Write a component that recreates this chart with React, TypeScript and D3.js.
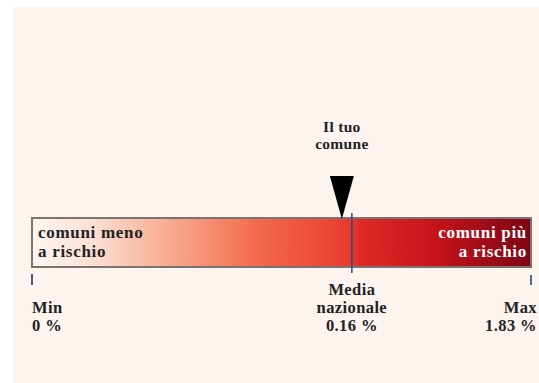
import React from "react";
import * as d3 from "d3";

const scalePoints = [0, 0.16, 1.83];
const scaleFractions = [0, 0.641, 1];
const tickLabels = [
  ["Min", "0 %"],
  ["Media", "nazionale", "0.16 %"],
  ["Max", "1.83 %"],
];
const comuneValue = 0.155;
const gradientStops = [
  { offset: 0, color: "#fdf6f2" },
  { offset: 0.12, color: "#fbe0d4" },
  { offset: 0.28, color: "#f8a98e" },
  { offset: 0.45, color: "#f36a4d" },
  { offset: 0.6, color: "#ec4534" },
  { offset: 0.64, color: "#e63a2e" },
  { offset: 0.66, color: "#de2a26" },
  { offset: 0.8, color: "#c8141c" },
  { offset: 1, color: "#7e0514" },
];

const W = 539;
const H = 383;

export default function App() {
  const x0 = 32;
  const x1 = 531;
  const x = d3
    .scaleLinear()
    .domain(scalePoints)
    .range(scaleFractions.map((f) => x0 + f * (x1 - x0)));
  const barTop = 218;
  const barBottom = 267;
  const font = "'Liberation Serif', 'Times New Roman', serif";
  const xm = x(scalePoints[1]);
  const xc = x(comuneValue);
  const tri = d3.path();
  tri.moveTo(xc - 12, 176);
  tri.lineTo(xc + 12, 176);
  tri.lineTo(xc, barTop + 1);
  tri.closePath();

  return (
    <svg
      width={W}
      height={H}
      style={{ position: "fixed", left: 0, top: 0, display: "block" }}
    >
      <defs>
        <linearGradient id="g" x1="0" x2="1" y1="0" y2="0">
          {gradientStops.map((s, i) => (
            <stop key={i} offset={s.offset} stopColor={s.color} />
          ))}
        </linearGradient>
      </defs>
      <rect x={0} y={0} width={W} height={H} fill="#ffffff" />
      <rect x={13} y={7} width={W - 13} height={H - 7} fill="#fdf4ef" />
      <rect
        x={x0}
        y={barTop}
        width={x1 - x0}
        height={barBottom - barTop}
        fill="url(#g)"
        stroke="#7a7470"
        strokeWidth={2}
      />
      <line x1={xm} x2={xm} y1={213} y2={273} stroke="#2f4590" strokeWidth={1.5} />
      <line x1={x(scalePoints[0])} x2={x(scalePoints[0])} y1={274} y2={285} stroke="#4b5a7a" strokeWidth={2} />
      <line x1={x(scalePoints[2])} x2={x(scalePoints[2])} y1={275} y2={285} stroke="#4b6a88" strokeWidth={2} />
      <path d={tri.toString()} fill="#000" />
      <g fontFamily={font} fontWeight="bold" fill="#222">
        <text x={xc} y={132} fontSize={15.5} textAnchor="middle" letterSpacing={0.3}>Il tuo</text>
        <text x={xc} y={149} fontSize={15.5} textAnchor="middle" letterSpacing={0.3}>comune</text>
        <text x={38} y={238} fontSize={17} letterSpacing={0.7}>comuni meno</text>
        <text x={38} y={257} fontSize={17} letterSpacing={0.7}>a rischio</text>
        <text x={527} y={238} fontSize={17} textAnchor="end" fill="#fff" letterSpacing={0.7}>comuni più</text>
        <text x={527} y={257} fontSize={17} textAnchor="end" fill="#fff" letterSpacing={0.7}>a rischio</text>
        {tickLabels[0].map((t, i) => (
          <text key={i} x={x(scalePoints[0])} y={313 + i * 18} fontSize={16.5} letterSpacing={0.4}>{t}</text>
        ))}
        {tickLabels[1].map((t, i) => (
          <text key={i} x={xm} y={295 + i * 18} fontSize={16.5} textAnchor="middle" letterSpacing={0.4}>{t}</text>
        ))}
        {tickLabels[2].map((t, i) => (
          <text key={i} x={537} y={313 + i * 18} fontSize={16.5} textAnchor="end" letterSpacing={0.4}>{t}</text>
        ))}
      </g>
    </svg>
  );
}
